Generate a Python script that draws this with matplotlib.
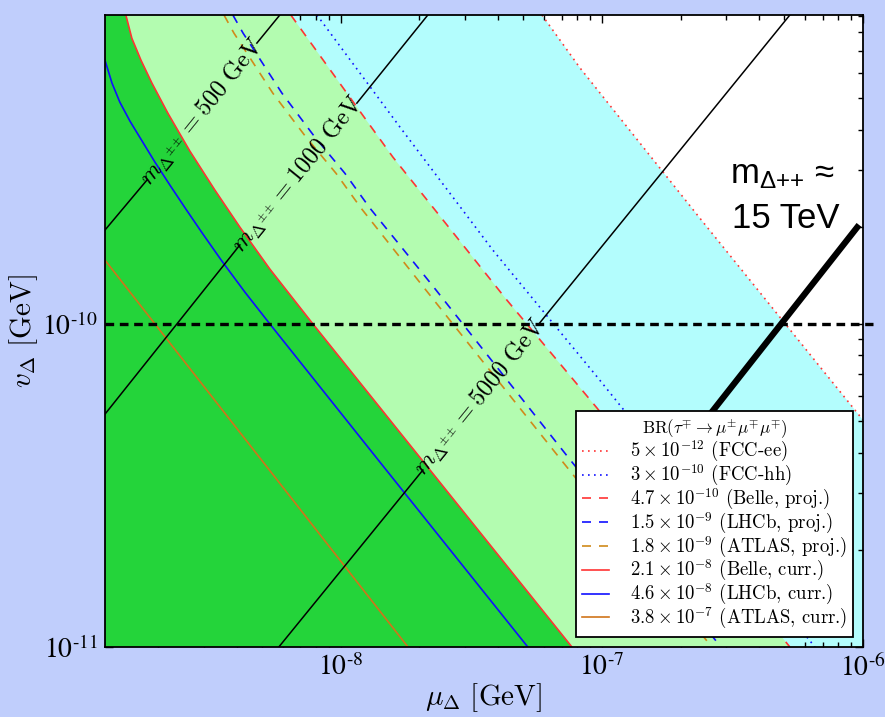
import numpy as np
import matplotlib
matplotlib.use('Agg')
import matplotlib.pyplot as plt
from matplotlib.ticker import NullFormatter

plt.rcParams['mathtext.fontset'] = 'cm'
plt.rcParams['font.family'] = ['DejaVu Serif']

# plot window, log10 of GeV
mu_lim = [-8.904, -6.0]
v_lim = [-11.0, -9.043]

# BR(tau -> 3 mu) limit curves, points as log10(mu_Delta), log10(v_Delta)
fccee_mu = [-7.230, -7.084, -6.625, -6.000]
fccee_v = [-9.043, -9.207, -9.672, -10.297]

fcchh_mu = [-8.092, -7.774, -7.418, -7.015, -6.184]
fcchh_v = [-9.043, -9.390, -9.771, -10.167, -11.0]

belle_proj_mu = [-8.192, -7.939, -7.801, -7.517, -7.364, -7.019, -6.280]
belle_proj_v = [-9.043, -9.328, -9.483, -9.771, -9.926, -10.260, -11.0]

lhcb_proj_mu = [-8.414, -8.375, -8.226, -8.100, -7.985, -7.889, -7.651, -7.130, -6.544]
lhcb_proj_v = [-9.043, -9.099, -9.285, -9.421, -9.533, -9.641, -9.879, -10.412, -11.0]

atlas_proj_mu = [-8.448, -8.410, -8.261, -8.134, -8.019, -7.923, -7.690, -7.165, -6.579]
atlas_proj_v = [-9.043, -9.099, -9.285, -9.421, -9.533, -9.641, -9.879, -10.412, -11.0]

belle_curr_mu = [-8.824, -8.801, -8.766, -8.724, -8.663, -8.579, -8.483, -8.387, -8.272, -8.107, -7.115]
belle_curr_v = [-9.043, -9.115, -9.183, -9.254, -9.347, -9.464, -9.585, -9.700, -9.830, -10.0, -11.0]

lhcb_curr_mu = [-8.904, -8.877, -8.847, -8.808, -8.762, -8.713, -8.655, -8.594, -8.529,
                -8.456, -8.368, -8.272, -7.851, -7.284]
lhcb_curr_v = [-9.183, -9.254, -9.313, -9.372, -9.433, -9.498, -9.570, -9.644, -9.721,
               -9.805, -9.901, -10.0, -10.427, -11.0]

atlas_curr_mu = [-8.904, -7.743]
atlas_curr_v = [-9.802, -11.0]

legend_labels = [
    r'$5\times10^{-12}$ (FCC-ee)',
    r'$3\times10^{-10}$ (FCC-hh)',
    r'$4.7\times10^{-10}$ (Belle, proj.)',
    r'$1.5\times10^{-9}$ (LHCb, proj.)',
    r'$1.8\times10^{-9}$ (ATLAS, proj.)',
    r'$2.1\times10^{-8}$ (Belle, curr.)',
    r'$4.6\times10^{-8}$ (LHCb, curr.)',
    r'$3.8\times10^{-7}$ (ATLAS, curr.)',
]

# lines of constant doubly-charged mass: lower segment, gap for label, upper segment
mass_names = ['500', '1000', '5000']
mass_mu = [[-8.904, -8.743, -8.322, -8.234],
           [-8.904, -8.387, -7.939, -7.667],
           [-8.238, -7.686, -7.245, -6.280]]
mass_v = [[-9.709, -9.554, -9.130, -9.043],
          [-10.279, -9.755, -9.316, -9.043],
          [-11.0, -10.452, -10.003, -9.043]]

heavy_mu = [-6.6245, -6.015]
heavy_v = [-10.319, -9.693]

ref_v = -10.0


def p(a):
    return 10.0 ** np.asarray(a)


fig = plt.figure(figsize=(8.85, 7.17), dpi=100)
fig.patch.set_facecolor('#c0cefc')
ax = fig.add_axes([0.1186, 0.0976, 0.8565, 0.8815])
ax.set_xscale('log')
ax.set_yscale('log')
ax.set_xlim(p(mu_lim[0]), p(mu_lim[1]))
ax.set_ylim(p(v_lim[0]), p(v_lim[1]))
ax.set_facecolor('white')

x0, x1 = mu_lim
y0, y1 = v_lim

# shaded regions, stacked from the loosest bound to the tightest
cyan_x = list(fccee_mu) + [x1, x0, x0]
cyan_y = list(fccee_v) + [y0, y0, y1]
ax.fill(p(cyan_x), p(cyan_y), color='#b3fdfd', lw=0, zorder=1)
lg_x = list(belle_proj_mu) + [x0, x0]
lg_y = list(belle_proj_v) + [y0, y1]
ax.fill(p(lg_x), p(lg_y), color='#b3fcb0', lw=0, zorder=2)
dg_x = list(belle_curr_mu) + [x0, x0]
dg_y = list(belle_curr_v) + [y0, y1]
ax.fill(p(dg_x), p(dg_y), color='#24d43a', lw=0, zorder=3)

dash = (0, (5.4, 4.8))
dot = (0, (1, 2.6))
red = '#ff3333'
blue = '#1010ff'
orng = '#d0741a'
orng2 = '#d08a1a'

h = []
h += ax.plot(p(fccee_mu), p(fccee_v), color=red, ls=dot, lw=1.2, zorder=5)
h += ax.plot(p(fcchh_mu), p(fcchh_v), color=blue, ls=dot, lw=1.2, zorder=5)
h += ax.plot(p(belle_proj_mu), p(belle_proj_v), color=red, ls=dash, lw=1.2, zorder=5)
h += ax.plot(p(lhcb_proj_mu), p(lhcb_proj_v), color=blue, ls=dash, lw=1.2, zorder=5)
h += ax.plot(p(atlas_proj_mu), p(atlas_proj_v), color=orng2, ls=dash, lw=1.2, zorder=5)
h += ax.plot(p(belle_curr_mu), p(belle_curr_v), color=red, lw=1.2, zorder=5)
h += ax.plot(p(lhcb_curr_mu), p(lhcb_curr_v), color=blue, lw=1.2, zorder=5)
h += ax.plot(p(atlas_curr_mu), p(atlas_curr_v), color=orng, lw=1.2, zorder=5)

# mass contours with inline labels
for name, mx, my in zip(mass_names, mass_mu, mass_v):
    ax.plot(p(mx[:2]), p(my[:2]), color='black', lw=1.1, zorder=6)
    ax.plot(p(mx[2:]), p(my[2:]), color='black', lw=1.1, zorder=6)
    cx = 0.5 * (mx[1] + mx[2])
    cy = 0.5 * (my[1] + my[2])
    ax.text(p(cx), p(cy), r'$m_{\Delta^{\pm\pm}}=%s\ \mathrm{GeV}$' % name,
            rotation=51, rotation_mode='anchor', ha='center', va='center',
            fontsize=17.5, zorder=7)

ax.plot([p(mu_lim[0]), p(-5.962)], [p(ref_v), p(ref_v)], color='black',
        lw=2.4, ls=(0, (2.6, 1.7)), zorder=8, clip_on=False)
ax.plot(p(heavy_mu), p(heavy_v), color='black', lw=4.5, zorder=8,
        solid_capstyle='butt')

sans = ['Liberation Sans', 'DejaVu Sans']
ax.text(p(-6.510), p(-9.563), r'$\mathregular{m_{\Delta{+}{+}}}$ ≈',
        fontsize=25, family=sans, math_fontfamily='dejavusans',
        va='baseline', ha='left', zorder=9)
ax.text(p(-6.502), p(-9.703), '15 TeV', fontsize=25, family=sans,
        va='baseline', ha='left', zorder=9)

leg = ax.legend(h, legend_labels,
                title=r'$\mathrm{BR}(\tau^{\mp}\to\mu^{\pm}\mu^{\mp}\mu^{\mp})$',
                loc='lower right', prop={'family': 'cmr10', 'size': 13.5},
                title_fontsize=12.3, fancybox=False,
                edgecolor='black', framealpha=1, borderaxespad=0.55,
                handlelength=1.45, handletextpad=1.1, labelspacing=-0.07,
                borderpad=0.3)
leg.get_frame().set_linewidth(1.3)
leg.set_zorder(20)

ax.set_xticks([1e-8, 1e-7, 1e-6],
              labels=[r'$10^{\text{-}8}$', r'$10^{\text{-}7}$', r'$10^{\text{-}6}$'],
              fontsize=20, math_fontfamily='stix')
ax.set_yticks([1e-11, 1e-10],
              labels=[r'$10^{\text{-}11}$', r'$10^{\text{-}10}$'],
              fontsize=20, math_fontfamily='stix')
ax.xaxis.set_minor_formatter(NullFormatter())
ax.yaxis.set_minor_formatter(NullFormatter())
ax.tick_params(which='both', direction='in', top=True, right=True, width=1)
ax.tick_params(which='major', length=6, pad=5)
ax.tick_params(which='minor', length=3.5)
for s in ax.spines.values():
    s.set_linewidth(1.3)
    s.set_zorder(30)

ax.set_xlabel(r'$\mu_\Delta\ [\mathrm{GeV}]$', fontsize=21, labelpad=0)
ax.set_ylabel(r'$v_\Delta\ [\mathrm{GeV}]$', fontsize=21, labelpad=2)

fig.savefig('out.png', dpi=100, facecolor=fig.get_facecolor())
